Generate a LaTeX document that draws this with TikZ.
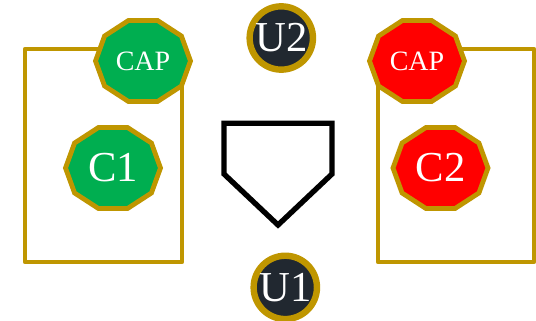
\documentclass[tikz,border=0pt]{standalone}
\usepackage{fontspec}
\setmainfont{Liberation Serif}
\definecolor{gold}{RGB}{191,150,0}
\definecolor{capgreen}{RGB}{0,174,80}
\definecolor{capred}{RGB}{255,0,0}
\definecolor{umpdark}{RGB}{33,40,48}
\tikzset{
  boxline/.style={draw=gold, line width=3.6pt, line join=round},
  decab/.style={draw=gold, line width=3.6pt},
  ring/.style={circle, draw=gold, fill=umpdark, line width=4.8pt, minimum size=47.5pt, inner sep=0pt, text=white, font=\fontsize{32}{34}\selectfont},
  bigtxt/.style={text=white, inner sep=0pt, font=\fontsize{32}{34}\selectfont},
  smalltxt/.style={text=white, inner sep=0pt, font=\fontsize{21}{24}\selectfont},
  plateline/.style={draw=black, line width=4pt}
}
\begin{document}
\begin{tikzpicture}[x=0.75pt, y=-0.75pt]
\useasboundingbox (0,0) rectangle (536,321);
% boxes
\draw[boxline] (25,49) rectangle (182,262);
\draw[boxline] (378,49) rectangle (534,262);
% decagons
\foreach \cx/\cy/\col in {143/61/capgreen, 113/168/capgreen, 417/61/capred, 440.5/168/capred}{
  \begin{scope}[shift={(\cx,\cy)}]
    \draw[decab, fill=\col] (0:47.5 and 42.5) \foreach \a in {36,72,...,324}{ -- (\a:47.5 and 42.5) } -- cycle;
  \end{scope}
}
\node[smalltxt] (capL) at (143,61) {CAP};
\node[bigtxt] (c1) at (113,168) {C1};
\node[smalltxt] (capR) at (417,61) {CAP};
\node[bigtxt] (c2) at (440.5,168) {C2};
% umpires
\node[ring] (u2) at (281.3,38) {U2};
\node[ring] (u1) at (285.3,287.4) {U1};
% home plate
\coordinate (p1) at (224,123.3);
\coordinate (p2) at (332,123.3);
\coordinate (p3) at (332,174);
\coordinate (p4) at (278,225);
\coordinate (p5) at (224,174);
\draw[plateline] (p1) -- (p2) -- (p3) -- (p4) -- (p5) -- cycle;
\end{tikzpicture}
\end{document}
